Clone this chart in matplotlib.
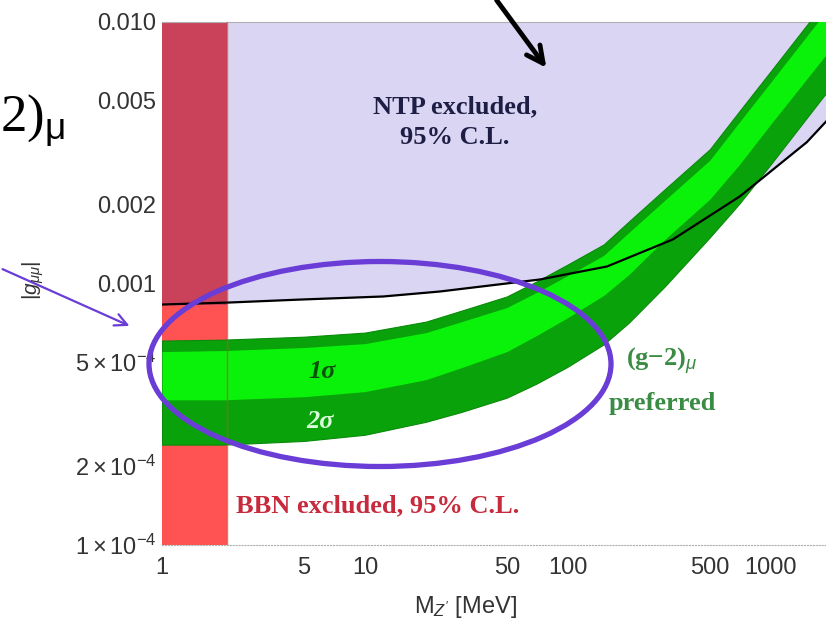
import numpy as np
import matplotlib
matplotlib.use("Agg")
import matplotlib.pyplot as plt
from matplotlib.patches import Ellipse, FancyArrowPatch

plt.rcParams['font.family'] = ['Liberation Sans', 'DejaVu Sans']
plt.rcParams['mathtext.fontset'] = 'custom'
plt.rcParams['mathtext.rm'] = 'Liberation Sans'
plt.rcParams['mathtext.it'] = 'Liberation Sans:italic'
plt.rcParams['mathtext.bf'] = 'Liberation Sans:bold'

# Data
mz_band = [1, 2, 5, 10, 20, 30, 50, 70, 100, 150, 200, 300, 500, 700, 1000, 2000]   # MeV
g_2sig_hi = [6.05e-4, 6.10e-4, 6.26e-4, 6.49e-4, 7.15e-4, 7.88e-4, 8.92e-4, 1.018e-3,
             1.183e-3, 1.410e-3, 1.728e-3, 2.292e-3, 3.26e-3, 4.56e-3, 6.49e-3, 1.292e-2]
g_1sig_hi = [5.49e-4, 5.54e-4, 5.69e-4, 5.89e-4, 6.49e-4, 7.15e-4, 8.09e-4, 9.24e-4,
             1.073e-3, 1.280e-3, 1.568e-3, 2.08e-3, 2.96e-3, 4.14e-3, 5.89e-3, 1.172e-2]
g_1sig_lo = [3.59e-4, 3.59e-4, 3.69e-4, 3.86e-4, 4.29e-4, 4.77e-4, 5.49e-4, 6.32e-4,
             7.41e-4, 9.00e-4, 1.083e-3, 1.474e-3, 2.10e-3, 2.85e-3, 4.07e-3, 8.0e-3]
g_2sig_lo = [2.42e-4, 2.42e-4, 2.50e-4, 2.64e-4, 2.96e-4, 3.23e-4, 3.66e-4, 4.14e-4,
             4.81e-4, 5.85e-4, 7.09e-4, 9.74e-4, 1.50e-3, 2.02e-3, 2.86e-3, 5.72e-3]

# neutrino trident production bound
ntp_mz = [1, 2.16, 4.78, 12.3, 23.4, 72.8, 156, 329, 704, 1504, 2000]
ntp_g = [8.31e-4, 8.46e-4, 8.68e-4, 8.92e-4, 9.32e-4, 1.036e-3, 1.162e-3, 1.474e-3, 2.154e-3, 3.47e-3, 4.40e-3]

bbn_limit = 2.1      # MeV
x_range = (1, 1870)
y_range = (1e-4, 1e-2)

xticks = [1, 5, 10, 50, 100, 500, 1000]
xtick_labels = ['1', '5', '10', '50', '100', '500', '1000']
yticks = [1e-4, 2e-4, 5e-4, 1e-3, 2e-3, 5e-3, 1e-2]
ytick_labels = [r'$1\times10^{-4}$', r'$2\times10^{-4}$', r'$5\times10^{-4}$',
                '0.001', '0.002', '0.005', '0.010']

W, H = 826, 635
fig = plt.figure(figsize=(W / 100, H / 100), dpi=100)
fig.patch.set_facecolor('white')
ax = fig.add_axes([162 / W, 90 / H, 664 / W, 523 / H])
ax.set_xscale('log')
ax.set_yscale('log')
ax.set_xlim(*x_range)
ax.set_ylim(*y_range)

# NTP excluded region
ax.fill_between(ntp_mz, ntp_g, y_range[1], color='#d9d5f3', lw=0, zorder=1)

# BBN excluded strip (darker where it overlaps the NTP region)
frac = (np.log10(ntp_g[0]) - np.log10(y_range[0])) / (np.log10(y_range[1]) - np.log10(y_range[0]))
ax.axvspan(x_range[0], bbn_limit, ymax=frac, color='#ff5252', lw=0, zorder=2)
ax.axvspan(x_range[0], bbn_limit, ymin=frac, color='#c9425a', lw=0, zorder=2)

# (g-2) preferred bands
ax.fill_between(mz_band, g_2sig_lo, g_2sig_hi, color='#0aa20a', lw=0.8,
                edgecolor='#0a8a0a', zorder=3)
ax.fill_between(mz_band, g_1sig_lo, g_1sig_hi, color='#0af20a', lw=0, zorder=3)
ax.axvline(bbn_limit, color='#c0502a', lw=1.0, alpha=0.7, zorder=4)

ax.plot(ntp_mz, ntp_g, color='black', lw=1.6, zorder=5)

# axes styling
for s in ['left', 'right']:
    ax.spines[s].set_visible(False)
ax.spines['top'].set_color('#b0b0b0')
ax.spines['bottom'].set_color('#b0b0b0')
ax.spines['bottom'].set_linestyle(':')
ax.set_xticks(xticks)
ax.set_xticklabels(xtick_labels)
ax.set_yticks(yticks)
ax.set_yticklabels(ytick_labels)
ax.xaxis.set_minor_locator(matplotlib.ticker.NullLocator())
ax.yaxis.set_minor_locator(matplotlib.ticker.NullLocator())
ax.tick_params(axis='both', length=0, labelsize=17, colors='#333333')
ax.tick_params(axis='x', pad=9)
ax.tick_params(axis='y', pad=4)

# annotations inside the plot
serif = ['Liberation Serif', 'DejaVu Serif']
ax.text(0.441, 0.809, 'NTP excluded,\n95% C.L.', transform=ax.transAxes,
        ha='center', va='center', fontsize=19, fontweight='bold', family=serif,
        color='#1e1e44', linespacing=1.45, zorder=6)
ax.text(0.111, 0.075, 'BBN excluded, 95% C.L.', transform=ax.transAxes,
        ha='left', va='center', fontsize=19, fontweight='bold', family=serif,
        color='#c62a3c', zorder=6)
ax.text(0.753, 0.352, r'(g$-$2)$_\mu$', transform=ax.transAxes,
        ha='center', va='center', fontsize=19, fontweight='bold', family=serif,
        color='#3a8c44', zorder=6)
ax.text(0.753, 0.270, 'preferred', transform=ax.transAxes,
        ha='center', va='center', fontsize=19, fontweight='bold', family=serif,
        color='#3a8c44', zorder=6)
ax.text(0.241, 0.331, '1σ', transform=ax.transAxes, ha='center', va='center',
        fontsize=19, style='italic', fontweight='bold', family=serif,
        color='#0a500a', zorder=6)
ax.text(0.238, 0.237, '2σ', transform=ax.transAxes, ha='center', va='center',
        fontsize=19, style='italic', fontweight='bold', family=serif,
        color='#d8ffd8', zorder=6)

# axis labels
fig.text(465 / W, 1 - 607 / H, r"M$_{Z'}$ [MeV]", ha='center', va='center',
         fontsize=17, color='#333333')
fig.text(33 / W, 1 - 280 / H, r'$|g_{\mu\mu}|$', ha='center', va='center',
         rotation=90, fontsize=15, color='#333333')

# slide overlay: title fragment, arrows and ellipse
fig.text(0, 1 - 120 / H, r'2)$_{\mathrm{\mu}}$', ha='left', va='center',
         fontsize=38, family=serif, color='black')

fig.add_artist(FancyArrowPatch((495 / W, 1 + 2 / H), (548 / W, 1 - 70 / H),
                               transform=fig.transFigure, arrowstyle='->',
                               mutation_scale=30, lw=3.5, color='black'))
fig.add_artist(FancyArrowPatch((0, 1 - 268 / H), (132 / W, 1 - 327 / H),
                               transform=fig.transFigure, arrowstyle='->',
                               mutation_scale=22, lw=1.6, color='#6a3dd6'))
fig.add_artist(Ellipse((380 / W, 1 - 364 / H), 462 / W, 205 / H,
                       transform=fig.transFigure, fill=False,
                       edgecolor='#6a3dd6', lw=3.8))

fig.savefig('out.png', dpi=100)
